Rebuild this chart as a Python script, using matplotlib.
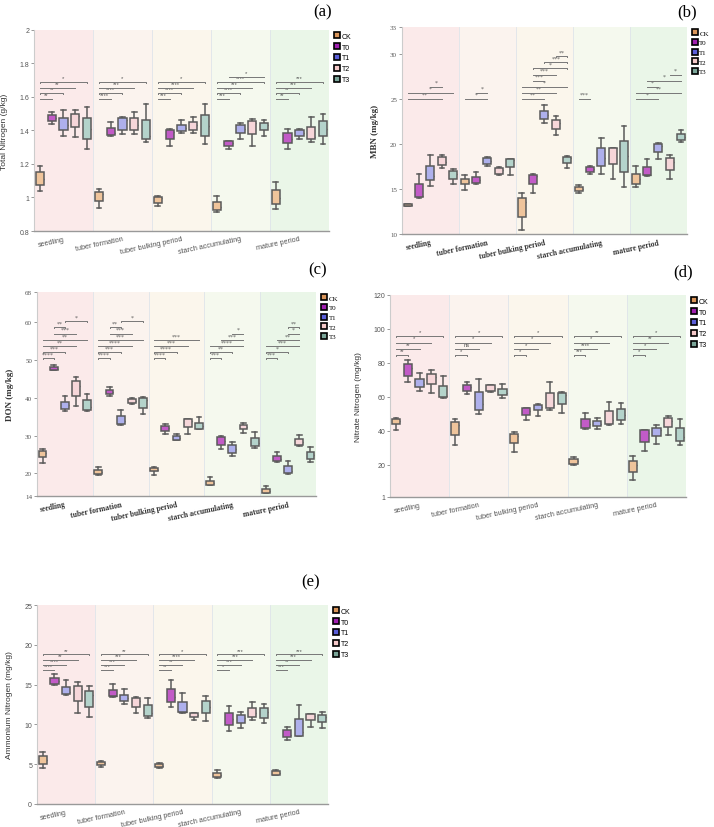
import matplotlib
matplotlib.use("Agg")
import matplotlib.pyplot as plt
from matplotlib.lines import Line2D

# Periods and treatments
periods = ["seedling", "tuber formation", "tuber bulking period", "starch accumulating", "mature period"]
treatments = ["CK", "T0", "T1", "T2", "T3"]

# box summaries: [min, q1, median, q3, max] for CK, T0, T1, T2, T3 in each period
tn_stats = [
    [[1.04, 1.075, 1.11, 1.15, 1.19], [1.44, 1.455, 1.475, 1.49, 1.51], [1.37, 1.40, 1.43, 1.475, 1.52], [1.36, 1.42, 1.485, 1.50, 1.52], [1.29, 1.35, 1.41, 1.477, 1.54]],
    [[0.94, 0.98, 1.02, 1.035, 1.05], [1.37, 1.375, 1.385, 1.415, 1.45], [1.38, 1.40, 1.46, 1.475, 1.48], [1.38, 1.405, 1.433, 1.475, 1.51], [1.33, 1.35, 1.37, 1.465, 1.56]],
    [[0.95, 0.97, 0.995, 1.005, 1.01], [1.31, 1.35, 1.39, 1.405, 1.41], [1.385, 1.395, 1.415, 1.433, 1.46], [1.385, 1.40, 1.43, 1.45, 1.48], [1.32, 1.37, 1.425, 1.493, 1.56]],
    [[0.915, 0.925, 0.945, 0.975, 1.01], [1.29, 1.31, 1.325, 1.335, 1.34], [1.35, 1.385, 1.41, 1.43, 1.445], [1.31, 1.38, 1.445, 1.455, 1.47], [1.37, 1.40, 1.43, 1.445, 1.46]],
    [[0.93, 0.96, 0.995, 1.045, 1.09], [1.29, 1.325, 1.35, 1.385, 1.41], [1.35, 1.37, 1.385, 1.405, 1.41], [1.33, 1.35, 1.36, 1.42, 1.48], [1.32, 1.365, 1.41, 1.455, 1.50]],
]
mbn_stats = [
    [[13.1, 13.15, 13.2, 13.3, 13.3], [14.05, 14.1, 14.2, 15.6, 16.7], [15.3, 16.0, 16.4, 17.6, 18.8], [17.3, 17.7, 18.0, 18.5, 18.8], [15.6, 16.1, 16.7, 17.0, 17.2]],
    [[14.9, 15.5, 15.8, 16.1, 16.5], [15.6, 15.7, 16.0, 16.3, 16.9], [17.6, 17.8, 18.15, 18.4, 18.6], [16.5, 16.7, 17.1, 17.3, 17.4], [16.6, 17.4, 18.2, 18.3, 18.3]],
    [[10.4, 11.9, 13.5, 14.0, 14.5], [14.6, 15.6, 16.4, 16.6, 16.7], [22.3, 22.8, 23.2, 23.7, 24.3], [21.0, 21.7, 22.3, 22.7, 23.1], [17.3, 17.9, 18.4, 18.6, 18.7]],
    [[14.6, 14.8, 15.0, 15.2, 15.4], [16.7, 16.9, 17.2, 17.4, 17.5], [16.7, 17.5, 18.4, 19.5, 20.7], [16.1, 17.8, 19.5, 19.5, 19.6], [15.2, 16.9, 18.7, 20.3, 22.0]],
    [[15.2, 15.6, 16.1, 16.7, 17.6], [16.4, 16.5, 16.6, 17.4, 18.3], [18.3, 19.1, 19.8, 20.0, 20.1], [16.1, 17.1, 18.0, 18.4, 18.8], [20.2, 20.4, 20.8, 21.1, 21.6]],
]
don_stats = [
    [[22.7, 24.3, 25.3, 26.0, 26.3], [47.3, 47.4, 47.7, 48.2, 48.6], [36.4, 37.1, 38.0, 38.8, 40.4], [37.7, 40.4, 43.0, 44.3, 45.6], [36.4, 36.8, 37.5, 39.3, 41.1]],
    [[19.5, 19.7, 20.3, 21.0, 21.6], [40.4, 40.9, 41.5, 42.1, 42.8], [32.7, 33.1, 33.8, 35.2, 36.8], [38.4, 38.6, 39.2, 39.7, 40.0], [35.8, 37.4, 39.5, 39.8, 40.3]],
    [[19.5, 20.5, 21.0, 21.5, 21.7], [30.5, 31.1, 32.0, 32.6, 33.0], [28.7, 28.9, 29.4, 29.9, 30.5], [30.5, 32.3, 33.8, 34.3, 34.5], [31.6, 31.8, 32.5, 33.4, 34.9]],
    [[16.8, 16.9, 17.5, 18.0, 19.0], [26.5, 27.6, 28.6, 29.6, 29.9], [24.5, 25.3, 26.3, 27.4, 28.3], [30.7, 31.6, 32.3, 32.9, 33.3], [26.6, 27.1, 28.0, 29.4, 30.9]],
    [[14.8, 14.9, 15.3, 15.9, 16.6], [23.0, 23.2, 23.9, 24.7, 25.6], [19.9, 20.0, 20.6, 21.8, 23.2], [27.2, 27.4, 28.2, 29.0, 30.2], [23.0, 23.9, 24.8, 25.6, 26.9]],
]
nit_stats = [
    [[40.6, 43.7, 45.5, 47.0, 47.5], [68.6, 72.5, 77.0, 79.4, 81.4], [63.7, 65.7, 67.6, 70.6, 73.9], [62.2, 67.3, 71.5, 73.5, 75.5], [59.4, 59.6, 60.2, 66.5, 72.5]],
    [[31.4, 37.3, 43.5, 45.1, 47.1], [61.8, 63.7, 65.7, 67.0, 68.6], [49.6, 52.5, 55.9, 63.1, 70.2], [62.7, 63.3, 65.0, 66.8, 67.1], [59.2, 60.8, 62.5, 64.7, 67.3]],
    [[27.5, 32.7, 37.0, 38.2, 39.2], [46.1, 49.4, 51.8, 53.3, 53.5], [48.4, 52.0, 53.7, 54.9, 55.5], [52.0, 53.5, 54.9, 62.2, 69.0], [50.4, 55.9, 61.2, 62.2, 62.8]],
    [[19.6, 20.6, 22.2, 23.5, 24.5], [41.2, 41.6, 43.7, 46.7, 50.2], [41.3, 42.7, 44.1, 45.5, 47.6], [43.1, 44.1, 46.5, 51.6, 56.9], [44.1, 46.5, 49.4, 52.9, 56.5]],
    [[11.2, 15.7, 20.0, 22.2, 24.9], [28.0, 33.3, 38.5, 40.2, 40.6], [32.4, 36.7, 40.2, 41.8, 43.1], [37.6, 42.2, 45.5, 47.5, 48.4], [31.8, 33.7, 36.5, 41.8, 47.1]],
]
amm_stats = [
    [[4.5, 5.0, 5.5, 6.0, 6.5], [14.9, 15.1, 15.4, 15.8, 16.3], [13.7, 13.8, 14.1, 14.7, 15.6], [11.4, 12.9, 14.5, 14.8, 15.3], [10.9, 12.2, 13.7, 14.2, 14.8]],
    [[4.7, 4.9, 5.1, 5.3, 5.35], [13.5, 13.55, 13.6, 14.3, 15.1], [12.5, 12.9, 13.3, 13.7, 14.4], [11.4, 12.2, 13.0, 13.3, 13.4], [10.8, 11.1, 11.4, 12.4, 13.3]],
    [[4.5, 4.6, 4.8, 5.0, 5.2], [12.2, 12.8, 13.4, 14.5, 15.6], [11.4, 11.5, 11.6, 12.8, 13.9], [10.5, 10.9, 11.2, 11.4, 11.4], [10.4, 11.4, 12.2, 12.9, 13.6]],
    [[3.3, 3.4, 3.7, 3.9, 4.3], [9.2, 9.9, 10.7, 11.4, 12.3], [9.5, 10.2, 10.8, 11.2, 11.6], [10.5, 10.9, 11.4, 12.0, 12.8], [10.2, 10.8, 11.5, 12.0, 12.6]],
    [[3.6, 3.7, 3.9, 4.2, 4.3], [8.0, 8.4, 8.7, 9.3, 9.7], [8.5, 8.6, 9.1, 10.7, 12.4], [9.7, 10.5, 11.0, 11.3, 11.3], [9.6, 10.3, 10.9, 11.2, 11.5]],
]

# significance brackets: (period, group a, group b, level, label)
tn_sig = [(0, 0, 1, 0, "**"), (0, 0, 2, 1, "**"), (0, 0, 3, 2, "**"), (0, 0, 4, 3, "*"),
          (1, 0, 1, 0, "****"), (1, 0, 2, 1, "****"), (1, 0, 3, 2, "***"), (1, 0, 4, 3, "*"),
          (2, 0, 1, 0, "***"), (2, 0, 2, 1, "****"), (2, 0, 3, 2, "****"), (2, 0, 4, 3, "*"),
          (3, 0, 1, 0, "***"), (3, 0, 2, 1, "****"), (3, 0, 3, 2, "***"), (3, 0, 4, 3, "****"), (3, 1, 4, 4, "*"),
          (4, 0, 1, 0, "**"), (4, 0, 2, 1, "**"), (4, 0, 3, 2, "***"), (4, 0, 4, 3, "***")]
mbn_sig = [(0, 0, 3, 0, "**"), (0, 0, 4, 1, "*"), (0, 2, 3, 2, "*"),
           (1, 0, 2, 0, "*"), (1, 1, 2, 1, "*"),
           (2, 0, 2, 0, "**"), (2, 0, 3, 1, "**"), (2, 0, 4, 2, "*"), (2, 1, 2, 3, "***"),
           (2, 1, 3, 4, "***"), (2, 1, 4, 5, "*"), (2, 2, 4, 6, "***"), (2, 3, 4, 7, "**"),
           (3, 0, 1, 0, "***"),
           (4, 0, 2, 0, "*"), (4, 0, 4, 1, "**"), (4, 1, 2, 2, "*"), (4, 1, 4, 3, "*"), (4, 3, 4, 4, "*")]
don_sig = [(0, 0, 1, 0, "****"), (0, 0, 2, 1, "***"), (0, 0, 3, 2, "**"), (0, 0, 4, 3, "**"), (0, 1, 3, 4, "***"), (0, 1, 2, 5, "**"), (0, 2, 4, 6, "*"),
           (1, 0, 1, 0, "****"), (1, 0, 2, 1, "***"), (1, 0, 3, 2, "****"), (1, 0, 4, 3, "***"), (1, 1, 3, 4, "***"), (1, 1, 2, 5, "**"), (1, 2, 4, 6, "*"),
           (2, 0, 1, 0, "****"), (2, 0, 2, 1, "****"), (2, 0, 3, 2, "***"), (2, 0, 4, 3, "***"),
           (3, 0, 1, 0, "***"), (3, 0, 2, 1, "**"), (3, 0, 3, 2, "****"), (3, 1, 3, 3, "***"), (3, 2, 3, 4, "*"),
           (4, 0, 1, 0, "***"), (4, 0, 2, 1, "*"), (4, 0, 3, 2, "***"), (4, 1, 3, 3, "**"), (4, 2, 3, 4, "*"), (4, 2, 3, 5, "**")]
nit_sig = [(0, 0, 1, 0, "**"), (0, 0, 2, 1, "**"), (0, 0, 3, 2, "*"), (0, 0, 4, 3, "*"),
           (1, 0, 1, 0, "*"), (1, 0, 2, 1, "ns"), (1, 0, 3, 2, "*"), (1, 0, 4, 3, "*"),
           (2, 0, 1, 0, "*"), (2, 0, 2, 1, "*"), (2, 0, 3, 2, "*"), (2, 0, 4, 3, "*"),
           (3, 0, 1, 0, "***"), (3, 0, 2, 1, "****"), (3, 0, 3, 2, "*"), (3, 0, 4, 3, "**"),
           (4, 0, 1, 0, "*"), (4, 0, 2, 1, "*"), (4, 0, 3, 2, "**"), (4, 0, 4, 3, "*")]
amm_sig = [(0, 0, 1, 0, "****"), (0, 0, 2, 1, "****"), (0, 0, 3, 2, "**"), (0, 0, 4, 3, "**"),
           (1, 0, 1, 0, "***"), (1, 0, 2, 1, "***"), (1, 0, 3, 2, "***"), (1, 0, 4, 3, "**"),
           (2, 0, 1, 0, "**"), (2, 0, 2, 1, "**"), (2, 0, 3, 2, "****"), (2, 0, 4, 3, "*"),
           (3, 0, 1, 0, "*"), (3, 0, 2, 1, "***"), (3, 0, 3, 2, "***"), (3, 0, 4, 3, "***"),
           (4, 0, 1, 0, "***"), (4, 0, 2, 1, "**"), (4, 0, 3, 2, "***"), (4, 0, 4, 3, "***")]

box_colors = ["#efc49b", "#c25bc7", "#aeb0ec", "#f6d6d9", "#b4d3cb"]
legend_colors = ["#d9955a", "#a020b0", "#5a5ed8", "#f5c9c9", "#7aa598"]
bg_colors = ["#fbeaea", "#fbf3ee", "#fbf6ec", "#f5f9ee", "#eaf6e8"]


def pos(p, g):
    return p + 0.1 + 0.2 * g


def draw_panel(rect, stats, sig, ylim, yticks, ylabel, base, step, label_off, serif, letter, letter_xy):
    ax = fig.add_axes(rect)
    fam = "Liberation Serif" if serif else "Liberation Sans"
    for p in range(5):
        ax.axvspan(p, p + 1, color=bg_colors[p], zorder=0, lw=0)
        if p > 0:
            ax.axvline(p, color="#dfe4ea", lw=0.6, zorder=0.5)
    for p in range(5):
        bs = [dict(whislo=s[0], q1=s[1], med=s[2], q3=s[3], whishi=s[4], fliers=[]) for s in stats[p]]
        parts = ax.bxp(bs, positions=[pos(p, g) for g in range(5)], widths=0.14, patch_artist=True,
                       showfliers=False, manage_ticks=False,
                       boxprops=dict(edgecolor="#5a5a5a", linewidth=1.1),
                       medianprops=dict(color="#5a5a5a", linewidth=1.0),
                       whiskerprops=dict(color="#5a5a5a", linewidth=1.1),
                       capprops=dict(color="#5a5a5a", linewidth=1.1), capwidths=0.08)
        for b, c in zip(parts["boxes"], box_colors):
            b.set_facecolor(c)
            b.set_zorder(3)
    for p, a, b, lev, lab in sig:
        x1, x2 = pos(p, a), pos(p, b)
        y = base + lev * step
        ax.plot([x1, x1, x2, x2], [y - step * 0.08, y, y, y - step * 0.08], color="#777777", lw=0.7, zorder=4)
        ax.text((x1 + x2) / 2, y + label_off * step, lab, ha="center", va="bottom", fontsize=4.2,
                color="#555555", family=fam, zorder=4)
    ax.set_xlim(0, 5)
    ax.set_ylim(*ylim)
    ax.set_yticks(yticks)
    ax.set_yticklabels([("%g" % t) for t in yticks], family=fam, fontsize=5, color="#555555")
    ax.set_xticks([p + 0.5 for p in range(5)])
    ax.set_xticklabels(periods, rotation=12, ha="right", fontsize=5.5 if serif else 5.2,
                       family=fam, color="#333333" if serif else "#555555",
                       fontweight="bold" if serif else "normal", rotation_mode="anchor")
    ax.tick_params(axis="x", length=0, pad=3)
    ax.tick_params(axis="y", length=2, width=0.6, color="#888888", pad=1.5)
    for s in ["top", "right"]:
        ax.spines[s].set_visible(False)
    ax.spines["left"].set_color("#cccccc")
    ax.spines["bottom"].set_color("#999999")
    ax.spines["bottom"].set_linewidth(1.0)
    ax.set_ylabel(ylabel, family=fam, fontsize=6.5 if serif else 6,
                  fontweight="bold" if serif else "normal", color="#333333", labelpad=8)
    handles = [Line2D([], [], marker="s", ls="", markerfacecolor=c, markeredgecolor="black",
                      markeredgewidth=1.2, markersize=5) for c in legend_colors]
    ax.legend(handles, treatments, loc="upper left", bbox_to_anchor=(1.005, 1.0), frameon=False,
              prop=dict(family=fam, size=5), handletextpad=0.2, labelspacing=0.55, borderaxespad=0,
              handlelength=1.0)
    fig.text(letter_xy[0], letter_xy[1], letter, ha="center", va="center", family="Liberation Serif", fontsize=12)
    return ax


fig = plt.figure(figsize=(7.14, 8.28), dpi=100)

draw_panel([0.0476, 0.7198, 0.413, 0.2428], tn_stats, tn_sig, (0.8, 2.0), [0.8, 1, 1.2, 1.4, 1.6, 1.8, 2],
           "Total Nitrogen (g/kg)", 1.59, 0.033, 0.35, False, "(a)", (0.452, 0.9855))
draw_panel([0.563, 0.7162, 0.399, 0.25], mbn_stats, mbn_sig, (10, 33), [10, 15, 20, 25, 30, 33],
           "MBN (mg/kg)", 25.0, 0.68, 0.3, True, "(b)", (0.962, 0.9855))
draw_panel([0.0518, 0.3998, 0.3908, 0.2464], don_stats, don_sig, (14, 68), [14, 20, 30, 40, 50, 60, 68],
           "DON (mg/kg)", 50.4, 1.65, 0.25, True, "(c)", (0.445, 0.674))
draw_panel([0.5462, 0.3986, 0.4146, 0.244], nit_stats, nit_sig, (1, 120), [1, 20, 40, 60, 80, 100, 120],
           "Nitrate Nitrogen (mg/kg)", 84.5, 3.7, 0.35, False, "(d)", (0.957, 0.6715))
draw_panel([0.0518, 0.0278, 0.4076, 0.2403], amm_stats, amm_sig, (0, 25), [0, 5, 10, 15, 20, 25],
           "Ammonium Nitrogen (mg/kg)", 16.85, 0.65, 0.3, False, "(e)", (0.4356, 0.297))

plt.savefig("out.png", dpi=100)
